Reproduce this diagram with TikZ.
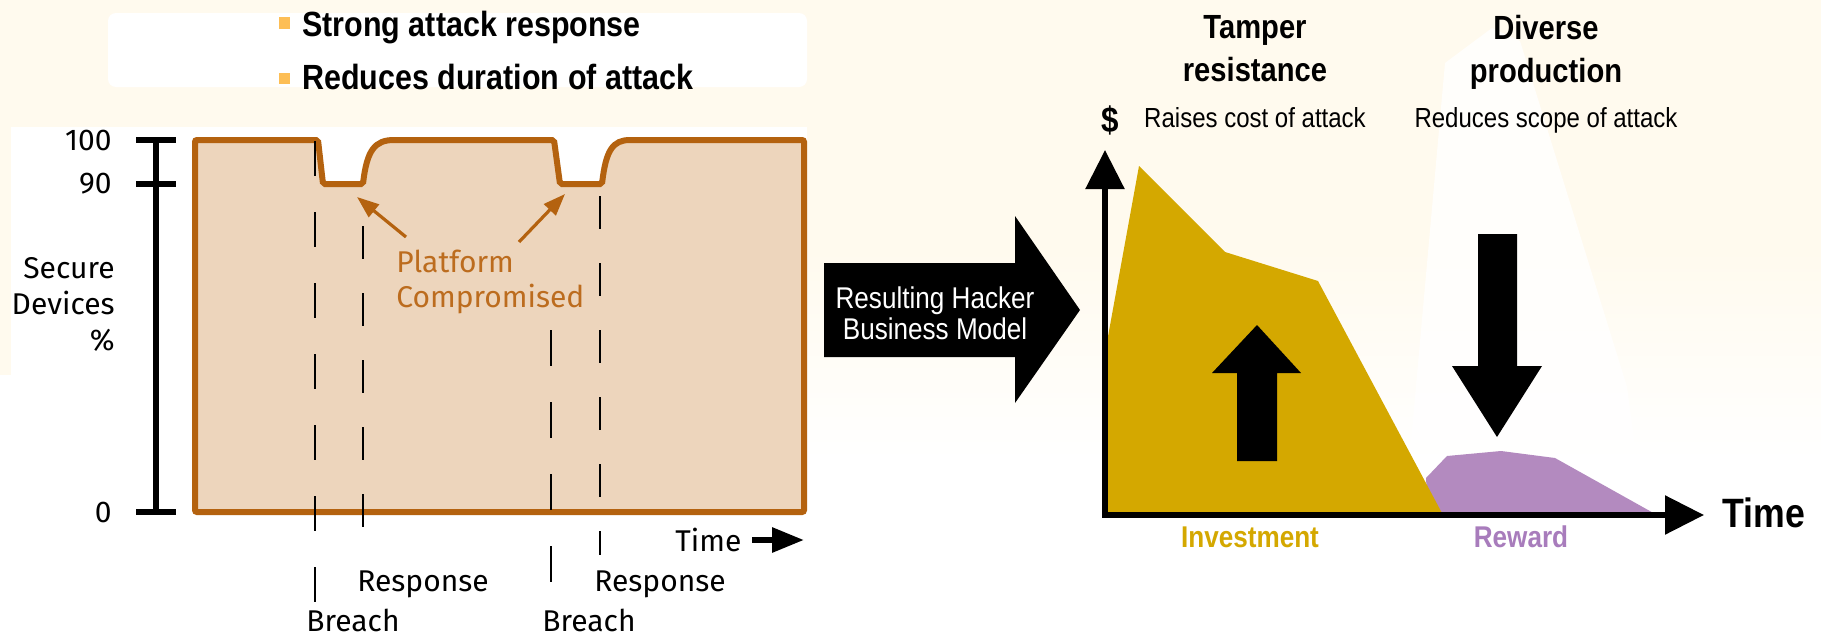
\documentclass[tikz,border=0pt]{standalone}
\usepackage{fontspec}
\setmainfont[FakeStretch=0.87]{Liberation Sans}
\newfontfamily\chartfont{Fira Sans}
\usetikzlibrary{arrows.meta}

\definecolor{cream}{HTML}{FFFAEE}
\definecolor{peach}{HTML}{EDD5BC}
\definecolor{rust}{HTML}{B4620F}
\definecolor{rusttext}{HTML}{BC6C1E}
\definecolor{bulletorange}{HTML}{FDBE55}
\definecolor{gold}{HTML}{D4A800}
\definecolor{lilac}{HTML}{B38ABF}
\definecolor{lilactext}{HTML}{A87CBC}

\tikzset{
  chartlabel/.style={font=\chartfont\fontsize{15}{18}\selectfont, inner sep=0pt},
  bullettext/.style={font=\bfseries\fontsize{17.5}{20}\selectfont, inner sep=0pt, anchor=base west},
  bulletmark/.style={fill=bulletorange},
  headline/.style={font=\bfseries\fontsize{16.75}{21.5}\selectfont, inner sep=0pt, align=center, anchor=north},
  subline/.style={font=\fontsize{13.8}{16}\selectfont, inner sep=0pt, anchor=base},
  dashline/.style={line width=1.4pt},
  axisline/.style={line width=3.2pt},
  bigaxis/.style={line width=2.8pt, {Triangle[length=19.5pt,width=19pt]}-{Triangle[length=19.5pt,width=19pt]}},
  pointer/.style={rust, line width=1.6pt, -{Triangle[length=11pt,width=8pt]}},
}

\begin{document}
\begin{tikzpicture}[x=0.5pt,y=-0.5pt]
\useasboundingbox (0,0) rectangle (1821,637);

% backdrop: cream page with white panels
\fill[cream] (0,0) rectangle (1821,637);
\shade[top color=cream,bottom color=white] (807,250) rectangle (1821,460);
\fill[white] (807,460) rectangle (1821,637);
\fill[white] (11,127) rectangle (807,637);
\fill[white] (0,375) rectangle (11,637);
\fill[white, rounded corners=4pt] (108,13) rectangle (807,87);
\fill[white, opacity=0.8] (1445,63) -- (1492,28) -- (1520,41) -- (1627,387) -- (1660,637)
  -- (1395,637) -- (1405,509) -- cycle;

% bullet list
\fill[bulletmark] (279,17) rectangle (290,29);
\node[bullettext] (b1) at (302,36.5) {Strong attack response};
\fill[bulletmark] (279,73) rectangle (290,84);
\node[bullettext] (b2) at (302,89.5) {Reduces duration of attack};

% ---------- secure devices chart ----------
\path[fill=peach, draw=rust, line width=3pt, rounded corners=1pt]
  (195,512) -- (195,140) -- (318,140) -- (323,184) -- (363,184)
  .. controls (367,150) and (375,140) .. (396,140) -- (554,140) -- (560,184) -- (602,184)
  .. controls (606,150) and (613,140) .. (632,140) -- (804,140) -- (804,512) -- cycle;

% scale bar
\coordinate (s100) at (156,140);
\coordinate (s0) at (156,512);
\draw[axisline] (s100) -- (s0);
\draw[axisline] (136,140) -- (176,140);
\draw[axisline] (136,184) -- (176,184);
\draw[axisline] (136,512) -- (176,512);
\node[chartlabel, anchor=east] (l100) at (112,140) {100};
\node[chartlabel, anchor=east] (l90) at (112,184) {90};
\node[chartlabel, anchor=east] (l0) at (112,512) {0};
\node[chartlabel, anchor=east, align=right, font=\chartfont\fontsize{15}{18}\selectfont] (ylab) at (115,304) {Secure\\Devices\\\%};

% breach / response markers
\coordinate (br1t) at (315,141);  \coordinate (br1b) at (315,603);
\coordinate (rs1t) at (363,226);  \coordinate (rs1b) at (363,527);
\coordinate (br2t) at (551,330);  \coordinate (br2b) at (551,582);
\coordinate (rs2t) at (600,196);  \coordinate (rs2b) at (600,555);
\draw[dashline, dash pattern=on 17.5pt off 18pt] (br1t) -- (br1b);
\draw[dashline, dash pattern=on 16.5pt off 17pt] (rs1t) -- (rs1b);
\draw[dashline, dash pattern=on 18pt off 18pt] (br2t) -- (br2b);
\draw[dashline, dash pattern=on 16.5pt off 17pt] (rs2t) -- (rs2b);
\node[chartlabel, anchor=base west] (breach1) at (306,631) {Breach};
\node[chartlabel, anchor=base west] (resp1) at (357,591) {Response};
\node[chartlabel, anchor=base west] (breach2) at (542,631) {Breach};
\node[chartlabel, anchor=base west] (resp2) at (594,591) {Response};

% time direction
\node[chartlabel, anchor=base west] (ltime) at (675,551) {Time};
\coordinate (lt0) at (752,540);
\coordinate (lt1) at (804,540);
\draw[line width=3pt, -{Triangle[length=16pt,width=12pt]}] (lt0) -- (lt1);

% compromise callout
\node[chartlabel, rusttext, anchor=north west, align=left, font=\chartfont\fontsize{15}{17.5}\selectfont] (pc) at (396,250) {Platform\\Compromised};
\coordinate (pc1) at (406,237);
\coordinate (dip1) at (357,197);
\coordinate (pc2) at (519,242);
\coordinate (dip2) at (565,194);
\draw[pointer] (pc1) -- (dip1);
\draw[pointer] (pc2) -- (dip2);

% ---------- transition arrow ----------
\fill[black] (824,263) -- (1015,263) -- (1015,216) -- (1080,310) -- (1015,403)
  -- (1015,357) -- (824,357) -- cycle;
\node[text=white, align=center, inner sep=0pt, font=\fontsize{15}{15.5}\selectfont] (hbm) at (935,313) {Resulting Hacker\\Business Model};

% ---------- hacker business model chart ----------
\fill[lilac] (1428,515) -- (1426,478) -- (1447,456) -- (1501,451) -- (1555,458) -- (1657,515) -- cycle;
\fill[gold] (1105,515) -- (1105,353) -- (1139,166) -- (1225,252) -- (1318,281) -- (1443,515) -- cycle;

% cost up / scope down arrows
\fill[black] (1237,461) -- (1237,373) -- (1212,373) -- (1257,325) -- (1301,373) -- (1277,373) -- (1277,461) -- cycle;
\fill[black] (1478,234) -- (1517,234) -- (1517,366) -- (1542,366) -- (1497,437) -- (1452,366) -- (1478,366) -- cycle;

\coordinate (ytop) at (1105,150);
\coordinate (orig) at (1105,515);
\coordinate (xend) at (1704,515);
\draw[bigaxis] (ytop) -- (orig) -- (xend);

\node[font=\bfseries\fontsize{18}{20}\selectfont, inner sep=0pt] (dollar) at (1110,120) {\$};
\node[anchor=west, font=\bfseries\fontsize{20.5}{22}\selectfont, inner sep=0pt] (rtime) at (1722,513) {Time};

\node[headline] (tamper) at (1255,15) {Tamper\\resistance};
\node[subline] (raise) at (1255,127) {Raises cost of attack};
\node[headline] (diverse) at (1546,15) {Diverse\\production};
\node[subline] (scope) at (1546,127) {Reduces scope of attack};

\node[font=\bfseries\fontsize{15}{17}\selectfont, text=gold, inner sep=0pt] (invest) at (1250,537) {Investment};
\node[font=\bfseries\fontsize{15}{17}\selectfont, text=lilactext, inner sep=0pt] (reward) at (1521,537) {Reward};
\end{tikzpicture}
\end{document}
